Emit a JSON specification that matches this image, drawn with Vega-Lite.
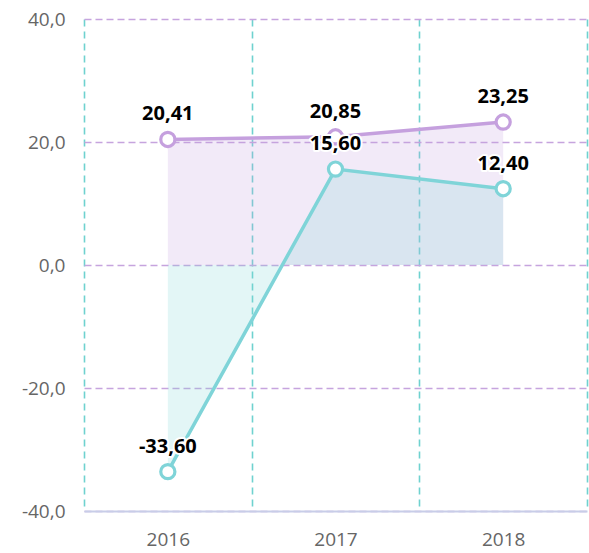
{
  "$schema": "https://vega.github.io/schema/vega-lite/v6.json",
  "width": 503,
  "height": 492,
  "autosize": {"type": "none"},
  "padding": {"left": 84, "top": 19, "right": 2, "bottom": 42},
  "background": "white",
  "config": {
    "locale": {"number": {"decimal": ",", "thousands": ".", "grouping": [3], "currency": ["", " €"], "minus": "-"}},
    "font": "Open Sans",
    "view": {"stroke": null}
  },
  "data": {
    "values": [
      {"year": "2016", "series": "A", "value": 20.41},
      {"year": "2017", "series": "A", "value": 20.85},
      {"year": "2018", "series": "A", "value": 23.25},
      {"year": "2016", "series": "B", "value": -33.6},
      {"year": "2017", "series": "B", "value": 15.6},
      {"year": "2018", "series": "B", "value": 12.4}
    ]
  },
  "encoding": {
    "x": {
      "field": "year", "type": "ordinal",
      "scale": {"paddingInner": 0, "paddingOuter": 0},
      "axis": {
        "title": null, "labelAngle": 0, "labelFontSize": 19, "labelColor": "#666666",
        "labelPadding": 19, "ticks": false, "tickSize": 0,
        "domainColor": "#c8cde8", "domainWidth": 2,
        "grid": true, "tickBand": "extent", "gridColor": "#6fd2cf", "gridDash": [7, 5], "gridWidth": 1.6
      }
    },
    "y": {
      "field": "value", "type": "quantitative", "stack": null,
      "scale": {"domain": [-40, 40], "nice": false},
      "axis": {
        "title": null, "format": ".1f", "values": [-40, -20, 0, 20, 40], "labelFontSize": 19, "labelColor": "#666666",
        "labelPadding": 19, "ticks": false, "tickSize": 0, "domain": false,
        "gridColor": "#c6a4de", "gridDash": [7, 4], "gridWidth": 1.6
      }
    },
    "color": {
      "field": "series", "type": "nominal", "legend": null,
      "scale": {"domain": ["A", "B"], "range": ["#c5a0de", "#7fd4d8"]}
    }
  },
  "layer": [
    {"mark": {"type": "area", "opacity": 0.22}},
    {"mark": {"type": "line", "strokeWidth": 3.5}},
    {"mark": {"type": "point", "shape": "circle", "filled": false, "fill": "white", "fillOpacity": 1, "size": 200, "strokeWidth": 3.2, "opacity": 1}},
    {
      "mark": {"type": "text", "dy": -25, "fontSize": 20, "fontWeight": "bold", "stroke": "white", "strokeWidth": 4, "strokeJoin": "round"},
      "encoding": {"text": {"field": "value", "type": "quantitative", "format": ".2f"}, "color": {"value": "white"}}
    },
    {
      "mark": {"type": "text", "dy": -25, "fontSize": 20, "fontWeight": "bold", "fill": "black"},
      "encoding": {"text": {"field": "value", "type": "quantitative", "format": ".2f"}, "color": {"value": "black"}}
    }
  ]
}
